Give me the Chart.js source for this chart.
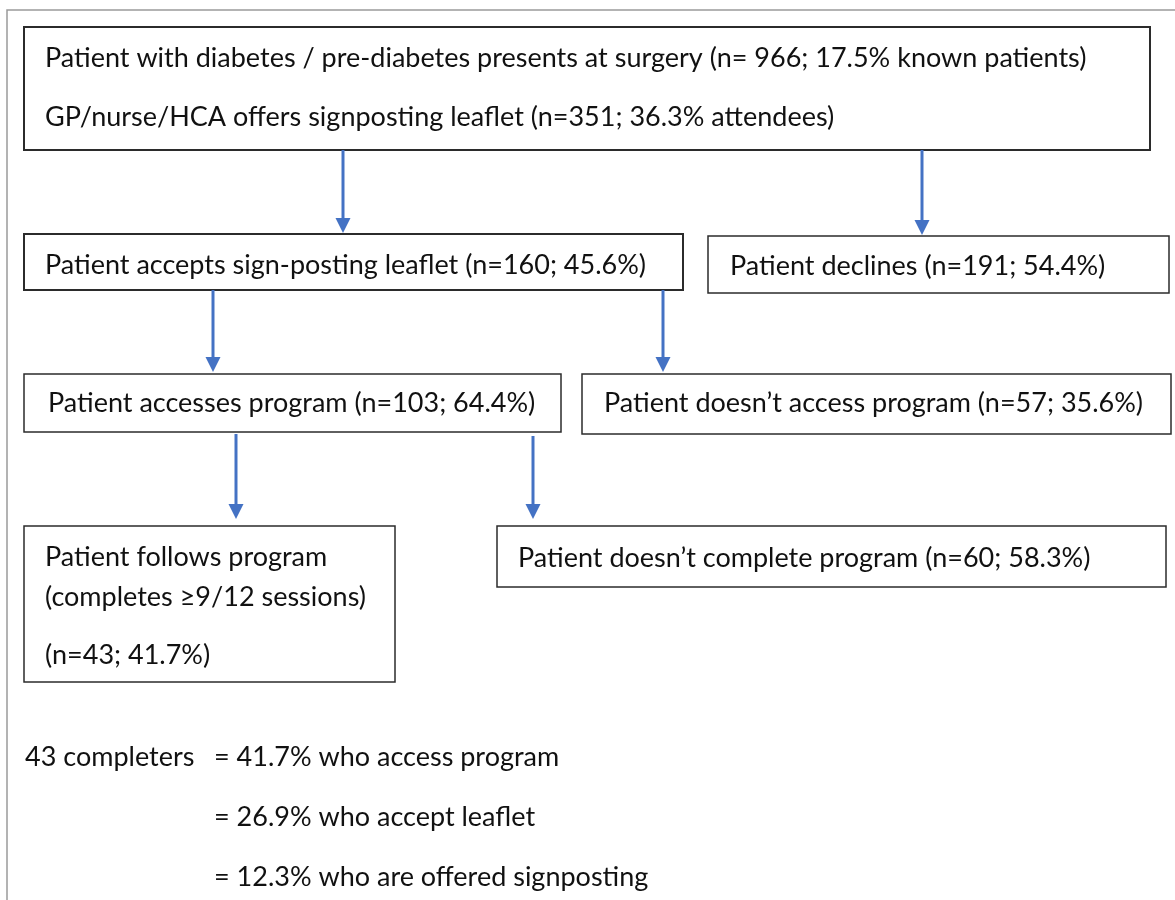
<!DOCTYPE html>
<html>
<head>
<meta charset="utf-8">
<script src="https://cdn.jsdelivr.net/npm/chart.js@4"></script>
<style>
  body { margin: 0; background: #fff; }
  canvas { display: block; }
</style>
</head>
<body>
<canvas id="flow" width="1175" height="900"></canvas>
<script>
// counts and percentages for each step of the pathway
const stepCounts = [966, 351, 160, 191, 103, 57, 43, 60];
const stepPercents = [17.5, 36.3, 45.6, 54.4, 64.4, 35.6, 41.7, 58.3];
const completerPercents = [41.7, 26.9, 12.3];
const completerBases = ['who access program', 'who accept leaflet', 'who are offered signposting'];

const stepText = [
  ['Patient with diabetes / pre-diabetes presents at surgery (n= ' + stepCounts[0] + '; ' + stepPercents[0] + '% known patients)',
   'GP/nurse/HCA offers signposting leaflet (n=' + stepCounts[1] + '; ' + stepPercents[1] + '% attendees)'],
  ['Patient accepts sign-posting leaflet (n=' + stepCounts[2] + '; ' + stepPercents[2] + '%)'],
  ['Patient declines (n=' + stepCounts[3] + '; ' + stepPercents[3] + '%)'],
  ['Patient accesses program (n=' + stepCounts[4] + '; ' + stepPercents[4] + '%)'],
  ['Patient doesn’t access program (n=' + stepCounts[5] + '; ' + stepPercents[5] + '%)'],
  ['Patient follows program', '(completes ≥9/12 sessions)', '(n=' + stepCounts[6] + '; ' + stepPercents[6] + '%)'],
  ['Patient doesn’t complete program (n=' + stepCounts[7] + '; ' + stepPercents[7] + '%)']
];

// layout of the boxes in axis units (x 0..1175, y 0..900 top-down)
const boxes = [
  { x0: 24, y0: 27, x1: 1150, y1: 150, tx: 45, ty: [58, 117], lw: 2 },
  { x0: 24, y0: 234, x1: 683, y1: 290, tx: 45, ty: [265], lw: 2 },
  { x0: 708, y0: 236, x1: 1169, y1: 293, tx: 730, ty: [266], lw: 1.5 },
  { x0: 24, y0: 374, x1: 561, y1: 432, tx: 48, ty: [403], lw: 1.5 },
  { x0: 582, y0: 374, x1: 1171, y1: 434, tx: 604, ty: [403], lw: 1.5 },
  { x0: 24, y0: 526, x1: 395, y1: 682, tx: 45, ty: [557, 597, 655], lw: 1.5 },
  { x0: 497, y0: 526, x1: 1166, y1: 587, tx: 518, ty: [558], lw: 1.5 }
];
const arrows = [
  { x: 343, y0: 150, y1: 233 },
  { x: 922, y0: 150, y1: 235 },
  { x: 213, y0: 290, y1: 372 },
  { x: 663, y0: 290, y1: 372 },
  { x: 236, y0: 434, y1: 519 },
  { x: 533, y0: 436, y1: 519 }
];

const font = '27px "Lato", "Open Sans", sans-serif';

const flowPlugin = {
  id: 'flow',
  afterDraw(chart) {
    const c = chart.ctx;
    const sx = chart.scales.x, sy = chart.scales.y;
    const X = v => sx.getPixelForValue(v);
    const Y = v => sy.getPixelForValue(v);
    c.save();

    // outer frame (left and top edges only)
    c.strokeStyle = '#9a9a9a';
    c.lineWidth = 1.5;
    c.beginPath();
    c.moveTo(X(7), Y(900));
    c.lineTo(X(7), Y(10));
    c.lineTo(X(1175), Y(10));
    c.stroke();

    // boxes
    c.textBaseline = 'middle';
    c.font = font;
    boxes.forEach((b, i) => {
      c.strokeStyle = '#2b2b2b';
      c.lineWidth = b.lw;
      c.strokeRect(X(b.x0), Y(b.y0), X(b.x1) - X(b.x0), Y(b.y1) - Y(b.y0));
      c.fillStyle = '#111';
      stepText[i].forEach((t, j) => c.fillText(t, X(b.tx), Y(b.ty[j])));
    });

    // arrows
    c.strokeStyle = '#4472c4';
    c.fillStyle = '#4472c4';
    c.lineWidth = 3;
    arrows.forEach(a => {
      const x = X(a.x), ya = Y(a.y0), yb = Y(a.y1);
      c.beginPath();
      c.moveTo(x, ya);
      c.lineTo(x, yb - 12);
      c.stroke();
      c.beginPath();
      c.moveTo(x - 7.5, yb - 15);
      c.lineTo(x + 7.5, yb - 15);
      c.lineTo(x, yb);
      c.closePath();
      c.fill();
    });

    // summary of completers
    c.fillStyle = '#111';
    c.fillText(stepCounts[6] + ' completers', X(25), Y(757));
    completerPercents.forEach((p, i) => {
      c.fillText('= ' + p + '% ' + completerBases[i], X(214), Y(757 + i * 60));
    });
    c.restore();
  }
};

new Chart(document.getElementById('flow'), {
  type: 'scatter',
  data: { datasets: [{ data: [] }] },
  options: {
    responsive: false,
    animation: false,
    devicePixelRatio: 1,
    layout: { padding: 0 },
    plugins: { legend: { display: false }, tooltip: { enabled: false } },
    scales: {
      x: { type: 'linear', min: 0, max: 1175, display: false },
      y: { type: 'linear', min: 0, max: 900, reverse: true, display: false }
    }
  },
  plugins: [flowPlugin]
});
</script>
</body>
</html>
